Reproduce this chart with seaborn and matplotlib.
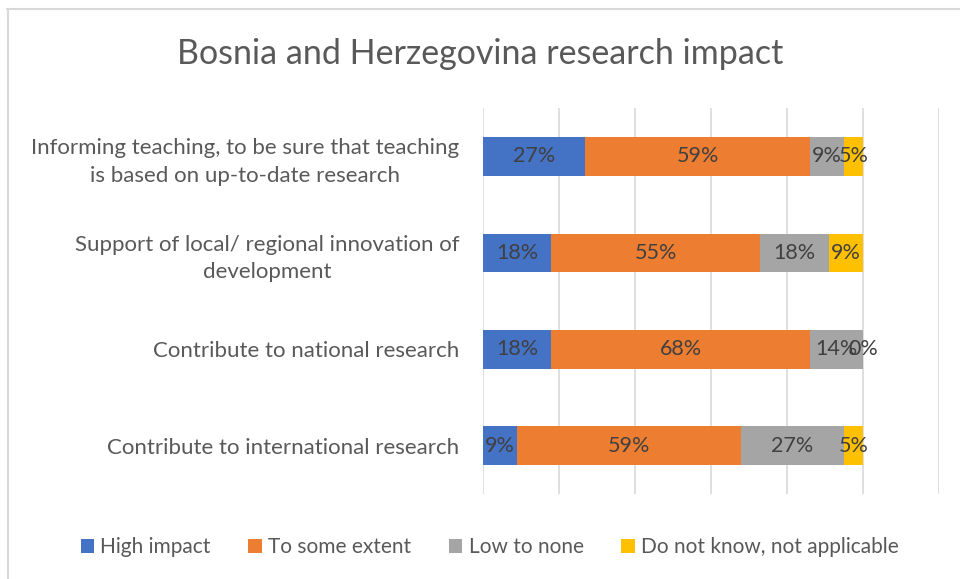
import numpy as np
import pandas as pd
import matplotlib.pyplot as plt
import seaborn as sns
from matplotlib.patches import Patch
from matplotlib.lines import Line2D

# data (percent)
categories = [
    "Informing teaching, to be sure that teaching\nis based on up-to-date research",
    "Support of local/ regional innovation of\ndevelopment",
    "Contribute to national research",
    "Contribute to international research",
]
series_names = ["High impact", "To some extent", "Low to none", "Do not know, not applicable"]
high_impact = [27, 18, 18, 9]
some_extent = [59, 55, 68, 59]
low_none = [9, 18, 14, 27]
dont_know = [5, 9, 0, 5]
colors = ["#4472C4", "#ED7D31", "#A5A5A5", "#FFC000"]

sns.set_style("white")
plt.rcParams["font.family"] = ["Lato", "DejaVu Sans"]

df = pd.DataFrame({"cat": categories, "High impact": high_impact,
                   "To some extent": some_extent, "Low to none": low_none,
                   "Do not know, not applicable": dont_know})
vals = df[series_names].to_numpy(dtype=float)
cum = np.cumsum(vals, axis=1)

fig = plt.figure(figsize=(9.6, 5.79), dpi=100)
ax = fig.add_axes([0.503, 0.147, 0.475, 0.666])

# draw longest cumulative bar first so the shorter ones sit on top (stacking)
for i in range(len(series_names) - 1, -1, -1):
    sns.barplot(x=cum[:, i], y=df["cat"], orient="h", color=colors[i],
                width=0.4, ax=ax, saturation=1, linewidth=0, zorder=2)

# data labels
for r in range(len(categories)):
    for i in range(len(series_names)):
        left = cum[r, i] - vals[r, i]
        ax.text(left + vals[r, i] / 2, r, f"{int(vals[r, i])}%", ha="center",
                va="center", fontsize=15.5, color="#404040", zorder=3)

ax.set_xlim(0, 120)
ax.set_xticks(np.arange(0, 121, 20))
ax.set_xticklabels([])
ax.tick_params(axis="both", length=0)
ax.grid(axis="x", color="#D9D9D9", linewidth=1.2, zorder=0)
ax.set_axisbelow(True)
for s in ax.spines.values():
    s.set_visible(False)
ax.set_xlabel("")
ax.set_ylabel("")
ax.set_yticks(range(len(categories)))
ax.set_yticklabels(categories, fontsize=16, color="#595959",
                   multialignment="center", linespacing=1.45)
ax.tick_params(axis="y", pad=17)

fig.text(0.5, 0.907, "Bosnia and Herzegovina research impact", ha="center",
         va="center", fontsize=24.5, color="#595959")

handles = [Patch(facecolor=c, edgecolor="none") for c in colors]
fig.legend(handles, series_names, loc="center", bbox_to_anchor=(0.51, 0.055),
           ncol=4, frameon=False, fontsize=15, handlelength=0.65, handleheight=0.65,
           handletextpad=0.3, columnspacing=1.8, labelcolor="#595959")

# chart frame (top and left edges visible)
fig.add_artist(Line2D([0.007, 1.0], [0.984, 0.984], color="#D9D9D9", linewidth=1.5))
fig.add_artist(Line2D([0.008, 0.008], [0.0, 0.984], color="#D9D9D9", linewidth=1.5))

fig.savefig("out.png", dpi=100)
